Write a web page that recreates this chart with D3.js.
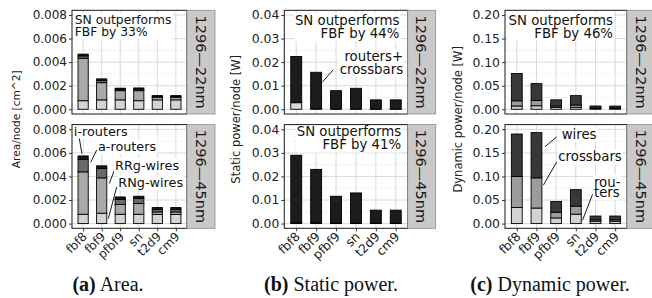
<!DOCTYPE html>
<html>
<head>
<meta charset="utf-8">
<script src="https://cdn.jsdelivr.net/npm/d3@7"></script>
<style>
body { margin: 0; background: #fff; }
svg { display: block; }
</style>
</head>
<body>
<svg id="chart" width="652" height="298"></svg>
<script>
var categories = ["fbf8", "fbf9", "pfbf9", "sn", "t2d9", "cm9"];
var rowLabels = ["1296\u201422nm", "1296\u201445nm"];

// area per node [cm^2], stacked bottom to top
var areaRNgWires22 = [0.00073, 0.0008, 0.0008, 0.00073, 0.0008, 0.0008];
var areaRRgWires22 = [0.0036, 0.00146, 0.00078, 0.00085, 0.00022, 0.00022];
var areaARouters22 = [0.0002, 0.00018, 0.00012, 0.00013, 0.00008, 0.00008];
var areaIRouters22 = [0.00015, 0.00014, 0.00009, 0.0001, 0.00006, 0.00006];
var areaRNgWires45 = [0.00079, 0.00088, 0.00079, 0.00079, 0.00077, 0.00077];
var areaRRgWires45 = [0.0036, 0.003, 0.00083, 0.00091, 0.00022, 0.00022];
var areaARouters45 = [0.00105, 0.0008, 0.00042, 0.00043, 0.0002, 0.0002];
var areaIRouters45 = [0.0003, 0.00022, 0.00022, 0.00019, 0.00017, 0.00017];

// static power per node [W]
var staticWires22 = [0.0028, 0.0002, 0.0001, 0.0001, 0.0001, 0.0001];
var staticRoutersXbars22 = [0.0196, 0.0155, 0.0078, 0.0088, 0.0039, 0.0039];
var staticWires45 = [0.0004, 0.0004, 0.0003, 0.0003, 0.0002, 0.0002];
var staticRoutersXbars45 = [0.0286, 0.0226, 0.0113, 0.0127, 0.0055, 0.0055];

// dynamic power per node [W]
var dynRouters22 = [0.007, 0.0075, 0.004, 0.004, 0.002, 0.002];
var dynCrossbars22 = [0.011, 0.011, 0.003, 0.005, 0.001, 0.001];
var dynWires22 = [0.058, 0.036, 0.013, 0.02, 0.004, 0.0038];
var dynRouters45 = [0.034, 0.033, 0.012, 0.02, 0.005, 0.005];
var dynCrossbars45 = [0.066, 0.064, 0.012, 0.017, 0.003, 0.003];
var dynWires45 = [0.09, 0.096, 0.023, 0.035, 0.008, 0.008];

var areaTicks = [0, 0.002, 0.004, 0.006, 0.008];
var staticTicks = [0, 0.01, 0.02, 0.03, 0.04];
var dynTicks = [0, 0.05, 0.10, 0.15, 0.20];

// annotations: x in category units (0 = fbf8), y in data units
var areaNotes = [
	{row: 0, lines: ["SN outperforms", "FBF by 33%"], x: -0.45, y: 0.0076, anchor: "start", size: 12.3},
	{row: 1, lines: ["i-routers"], x: -0.5, y: 0.00786, anchor: "start", size: 12.8, line: [-0.22, 0.00737, -0.07, 0.00594]},
	{row: 1, lines: ["a-routers"], x: 0.8, y: 0.00658, anchor: "start", size: 12.8, line: [0.73, 0.00624, 0.41, 0.00519]},
	{row: 1, lines: ["RRg-wires"], x: 1.72, y: 0.00496, anchor: "start", size: 12.8, line: [1.72, 0.00468, 1.41, 0.0034]},
	{row: 1, lines: ["RNg-wires"], x: 1.9, y: 0.00349, anchor: "start", size: 12.8, line: [1.81, 0.00311, 1.36, 0.00043]}
];
var staticNotes = [
	{row: 0, lines: ["SN outperforms", "FBF by 44%"], x: 5.18, y: 0.0377, anchor: "end", size: 13.3},
	{row: 0, lines: ["routers+", "crossbars"], x: 5.37, y: 0.0224, anchor: "end", size: 13.3, line: [1.86, 0.0168, 1.32, 0.0116]},
	{row: 1, lines: ["SN outperforms", "FBF by 41%"], x: 5.27, y: 0.0390, anchor: "end", size: 13.3}
];
var dynNotes = [
	{row: 0, lines: ["SN outperforms", "FBF by 46%"], x: 4.89, y: 0.190, anchor: "end", size: 13.3},
	{row: 1, lines: ["wires"], x: 2.28, y: 0.189, anchor: "start", size: 13.3, line: [2.03, 0.184, 1.43, 0.163]},
	{row: 1, lines: ["crossbars"], x: 2.11, y: 0.142, anchor: "start", size: 13.3, line: [2.03, 0.131, 1.35, 0.0815]},
	{row: 1, lines: ["rou-", "ters"], x: 3.92, y: 0.0885, anchor: "start", size: 13.3, lh: 0.8, line: [3.85, 0.0623, 3.34, 0.007]}
];

var panels = [
	{left: 72, right: 187, ticks: areaTicks, fmt: ".3f", tickFont: 12, title: "Area/node [cm^2]", titleX: 16, titleFont: 10.6,
	 rows: [[areaRNgWires22, areaRRgWires22, areaARouters22, areaIRouters22], [areaRNgWires45, areaRRgWires45, areaARouters45, areaIRouters45]],
	 colors: ["#d4d4d4", "#a9a9a9", "#6a6a6a", "#161616"], notes: areaNotes, caption: ["(a)", " Area."], captionX: 108},
	{left: 284.3, right: 407.7, ticks: staticTicks, fmt: ".2f", tickFont: 12.4, title: "Static power/node [W]", titleX: 236, titleFont: 11.5,
	 rows: [[staticWires22, staticRoutersXbars22], [staticWires45, staticRoutersXbars45]],
	 colors: ["#d9d9d9", "#1c1c1c"], notes: staticNotes, caption: ["(b)", " Static power."], captionX: 331},
	{left: 505, right: 627, ticks: dynTicks, fmt: ".2f", tickFont: 12.4, title: "Dynamic power/node [W]", titleX: 458, titleFont: 11.5,
	 rows: [[dynRouters22, dynCrossbars22, dynWires22], [dynRouters45, dynCrossbars45, dynWires45]],
	 colors: ["#d2d2d2", "#9c9c9c", "#383838"], notes: dynNotes, caption: ["(c)", " Dynamic power."], captionX: 550}
];

var rowTops = [10.3, 124.6];
var rowHeight = 103.7;
var stripWidth = 28;
var svg = d3.select("#chart");

panels.forEach(function(p) { draw_panel(p); });

function draw_panel(p) {
	var x = d3.scaleLinear()
			  .domain([-0.6, categories.length - 0.4])
			  .range([p.left, p.right]);
	var maxVal = p.ticks[p.ticks.length - 1];
	var step = p.ticks[1] - p.ticks[0];

	p.rows.forEach(function(row, r) {
		var top = rowTops[r];
		var bottom = top + rowHeight;
		var y = d3.scaleLinear()
				  .domain([-0.05 * maxVal, 1.05 * maxVal])
				  .range([bottom, top]);
		var g = svg.append("g");

		var minor = p.ticks.slice(1).map(function(t) { return t - step / 2; });
		g.selectAll(".minor").data(minor).enter().append("line")
			.attr("x1", p.left).attr("x2", p.right)
			.attr("y1", function(d) { return y(d); }).attr("y2", function(d) { return y(d); })
			.attr("stroke", "#eeeeee").attr("stroke-width", 0.6);
		g.selectAll(".major").data(p.ticks).enter().append("line")
			.attr("x1", p.left).attr("x2", p.right)
			.attr("y1", function(d) { return y(d); }).attr("y2", function(d) { return y(d); })
			.attr("stroke", "#d9d9d9").attr("stroke-width", 1);
		g.selectAll(".vgrid").data(categories).enter().append("line")
			.attr("x1", function(d, i) { return x(i); }).attr("x2", function(d, i) { return x(i); })
			.attr("y1", top).attr("y2", bottom)
			.attr("stroke", "#d9d9d9").attr("stroke-width", 1);

		var keys = row.map(function(s, k) { return "s" + k; });
		var table = categories.map(function(c, i) {
			var d = {cat: c, i: i};
			row.forEach(function(s, k) { d["s" + k] = s[i]; });
			return d;
		});
		var stacked = d3.stack().keys(keys)(table);
		var barW = x(0.275) - x(-0.275);

		stacked.forEach(function(layer, k) {
			g.selectAll(".bar" + k).data(layer).enter().append("rect")
				.attr("x", function(d) { return x(d.data.i) - barW / 2; })
				.attr("width", barW)
				.attr("y", function(d) { return y(d[1]); })
				.attr("height", function(d) { return y(d[0]) - y(d[1]); })
				.attr("fill", p.colors[k])
				.attr("stroke", "#000")
				.attr("stroke-width", 0.9);
		});

		p.notes.filter(function(n) { return n.row == r; }).forEach(function(n) {
			if (n.line) {
				g.append("line")
					.attr("x1", x(n.line[0])).attr("y1", y(n.line[1]))
					.attr("x2", x(n.line[2])).attr("y2", y(n.line[3]))
					.attr("stroke", "#000").attr("stroke-width", 0.9);
			}
			var ng = g.append("g");
			var text = ng.append("text")
						 .attr("font-family", "DejaVu Sans")
						 .attr("font-size", n.size)
						 .attr("fill", "#111")
						 .attr("text-anchor", n.anchor);
			n.lines.forEach(function(l, j) {
				text.append("tspan")
					.attr("x", x(n.x))
					.attr("y", y(n.y))
					.attr("dy", (0.36 + j * (n.lh || 0.98)) + "em")
					.text(l);
			});
			var bb = text.node().getBBox();
			ng.insert("rect", "text")
				.attr("x", bb.x - 1).attr("y", bb.y)
				.attr("width", bb.width + 2).attr("height", bb.height)
				.attr("fill", "#fff");
		});

		g.append("rect")
			.attr("x", p.left).attr("y", top)
			.attr("width", p.right - p.left).attr("height", rowHeight)
			.attr("fill", "none").attr("stroke", "#1a1a1a").attr("stroke-width", 1);

		g.append("rect")
			.attr("x", p.right).attr("y", top)
			.attr("width", stripWidth).attr("height", rowHeight)
			.attr("fill", "#c9c9c9").attr("stroke", "#8c8c8c").attr("stroke-width", 0.8);
		g.append("text")
			.attr("transform", "translate(" + (p.right + stripWidth / 2) + "," + (top + rowHeight / 2) + ") rotate(90)")
			.attr("text-anchor", "middle")
			.attr("dy", "0.36em")
			.attr("font-family", "DejaVu Sans")
			.attr("font-size", 14.5)
			.attr("fill", "#1a1a1a")
			.text(rowLabels[r]);

		var yAxis = g.append("g")
					 .attr("transform", "translate(" + p.left + ",0)")
					 .call(d3.axisLeft(y).tickValues(p.ticks).tickFormat(d3.format(p.fmt)).tickSize(3).tickPadding(2));
		yAxis.select(".domain").remove();
		yAxis.selectAll("line").attr("stroke", "#333");
		yAxis.selectAll("text")
			 .attr("font-family", "DejaVu Sans")
			 .attr("font-size", p.tickFont)
			 .attr("fill", "#222");

		if (r == p.rows.length - 1) {
			var xAxis = g.append("g")
						 .attr("transform", "translate(0," + bottom + ")")
						 .call(d3.axisBottom(x).tickValues(d3.range(categories.length)).tickFormat(function(i) { return categories[i]; }).tickSize(3));
			xAxis.select(".domain").remove();
			xAxis.selectAll("line").attr("stroke", "#333");
			xAxis.selectAll("text")
				 .attr("x", 0).attr("y", 0).attr("dy", "0.36em")
				 .attr("transform", "translate(1,6) rotate(-45)")
				 .attr("text-anchor", "end")
				 .attr("font-family", "DejaVu Sans")
				 .attr("font-size", p.tickFont)
				 .attr("fill", "#222");
		}
	});

	svg.append("text")
		.attr("transform", "translate(" + p.titleX + "," + ((rowTops[0] + rowTops[1] + rowHeight) / 2) + ") rotate(-90)")
		.attr("text-anchor", "middle")
		.attr("dy", "0.36em")
		.attr("font-family", "DejaVu Sans")
		.attr("font-size", p.titleFont)
		.attr("fill", "#222")
		.text(p.title);

	var cap = svg.append("text")
				 .attr("x", p.captionX)
				 .attr("y", 291)
				 .attr("text-anchor", "middle")
				 .attr("font-family", "Liberation Serif")
				 .attr("font-size", 20)
				 .attr("fill", "#111");
	cap.append("tspan").attr("font-weight", "bold").text(p.caption[0]);
	cap.append("tspan").text(p.caption[1]);
}
</script>
</body>
</html>
